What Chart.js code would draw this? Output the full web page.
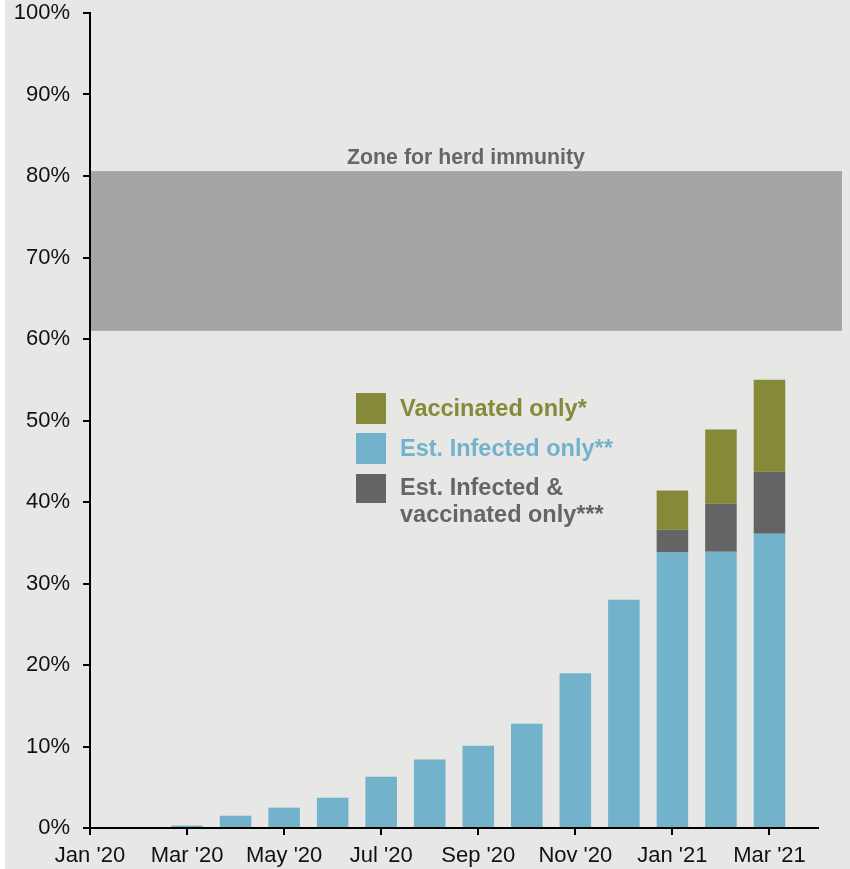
<!DOCTYPE html>
<html>
<head>
<meta charset="utf-8">
<script src="https://cdn.jsdelivr.net/npm/chart.js@4/dist/chart.umd.min.js"></script>
<style>
  html, body { margin: 0; padding: 0; background: #ffffff; }
  #wrap { position: relative; width: 850px; height: 869px; }
  #legend {
    position: absolute; left: 356px; top: 393px;
    font-family: Arial, "Liberation Sans", sans-serif; font-weight: bold; font-size: 23.5px;
  }
  .item { position: relative; padding-left: 44px; }
  .item .sw { position: absolute; left: 0; width: 30px; height: 31px; }
</style>
</head>
<body>
<div id="wrap">
  <canvas id="immunityChart"></canvas>
  <div id="legend">
    <div class="item" style="color:#858a38; height:40px; line-height:31px;"><span class="sw" style="background:#858a38; top:0;"></span>Vaccinated only*</div>
    <div class="item" style="color:#72b2cb; height:41px; line-height:31px;"><span class="sw" style="background:#72b2cb; top:0;"></span>Est. Infected only**</div>
    <div class="item" style="color:#656565; line-height:27px;"><span class="sw" style="background:#646464; top:0; height:29px;"></span>Est. Infected &amp;<br>vaccinated only***</div>
  </div>
</div>
<script>
var months = ["Jan '20", "Feb '20", "Mar '20", "Apr '20", "May '20", "Jun '20", "Jul '20", "Aug '20",
              "Sep '20", "Oct '20", "Nov '20", "Dec '20", "Jan '21", "Feb '21", "Mar '21", "Apr '21"];
var infectedOnly = [0, 0, 0.3, 1.5, 2.5, 3.7, 6.3, 8.4, 10.1, 12.8, 19.0, 28.0, 33.8, 33.9, 36.1, null];
var infectedAndVaccinated = [null, null, null, null, null, null, null, null, null, null, null, null, 2.8, 5.9, 7.6, null];
var vaccinatedOnly = [null, null, null, null, null, null, null, null, null, null, null, null, 4.8, 9.1, 11.3, null];
var herdZone = [61, 80.6];
var herdZoneLabel = 'Zone for herd immunity';

var FONT = 'Arial, "Liberation Sans", sans-serif';

var bgPlugin = {
    id: 'bgPlugin',
    beforeDraw: function (chart) {
        var c = chart.ctx;
        c.save();
        c.fillStyle = '#e7e7e5';
        c.fillRect(5, 0, chart.width - 5, chart.height);
        c.restore();
    }
};

var zonePlugin = {
    id: 'zonePlugin',
    beforeDatasetsDraw: function (chart) {
        var c = chart.ctx;
        var y = chart.scales.y;
        var area = chart.chartArea;
        var top = y.getPixelForValue(herdZone[1]);
        var bottom = y.getPixelForValue(herdZone[0]);
        var right = chart.width - 8;
        c.save();
        c.fillStyle = '#a5a5a5';
        c.fillRect(area.left + 1, top, right - area.left - 1, bottom - top);
        c.fillStyle = '#666666';
        c.font = 'bold 21.3px ' + FONT;
        c.textAlign = 'center';
        c.textBaseline = 'alphabetic';
        c.fillText(herdZoneLabel, (area.left + right) / 2, top - 7);
        c.restore();
    }
};

var ctx = document.getElementById('immunityChart').getContext('2d');

var myChart = new Chart(ctx, {
    type: 'bar',
    data: {
        labels: months,
        datasets: [
            {
                label: 'Est. Infected only**',
                backgroundColor: '#72b2cb',
                data: infectedOnly
            },
            {
                label: 'Est. Infected & vaccinated only***',
                backgroundColor: '#646464',
                data: infectedAndVaccinated
            },
            {
                label: 'Vaccinated only*',
                backgroundColor: '#858a38',
                data: vaccinatedOnly
            }
        ]
    },
    options: {
        responsive: true,
        maintainAspectRatio: false,
        animation: false,
        barPercentage: 0.65,
        categoryPercentage: 1,
        layout: {
            padding: { left: 0, right: 32, top: 0, bottom: 0 }
        },
        plugins: {
            legend: { display: false },
            tooltip: { enabled: false }
        },
        scales: {
            x: {
                stacked: true,
                offset: false,
                afterFit: function (scale) { scale.height = 41; },
                ticks: {
                    autoSkip: false,
                    maxRotation: 0,
                    minRotation: 0,
                    padding: 8,
                    color: '#111111',
                    font: { family: FONT, size: 22 },
                    callback: function (value, index) {
                        if (index % 2 !== 0) return null;
                        return months[index];
                    }
                },
                grid: {
                    display: true,
                    offset: false,
                    drawOnChartArea: false,
                    drawTicks: true,
                    tickLength: 7,
                    lineWidth: 2,
                    color: '#000000'
                },
                border: { display: true, color: '#000000', width: 2 }
            },
            y: {
                stacked: true,
                min: 0,
                max: 100,
                afterFit: function (scale) {
                    scale.width = 90;
                    scale.paddingTop = 13;
                    scale.paddingBottom = 0;
                },
                ticks: {
                    stepSize: 10,
                    padding: 13,
                    color: '#111111',
                    font: { family: FONT, size: 22 },
                    callback: function (value) { return value + '%'; }
                },
                grid: {
                    display: true,
                    drawOnChartArea: false,
                    drawTicks: true,
                    tickLength: 7,
                    lineWidth: 2,
                    color: '#000000'
                },
                border: { display: true, color: '#000000', width: 2 }
            }
        }
    },
    plugins: [bgPlugin, zonePlugin]
});
</script>
</body>
</html>
